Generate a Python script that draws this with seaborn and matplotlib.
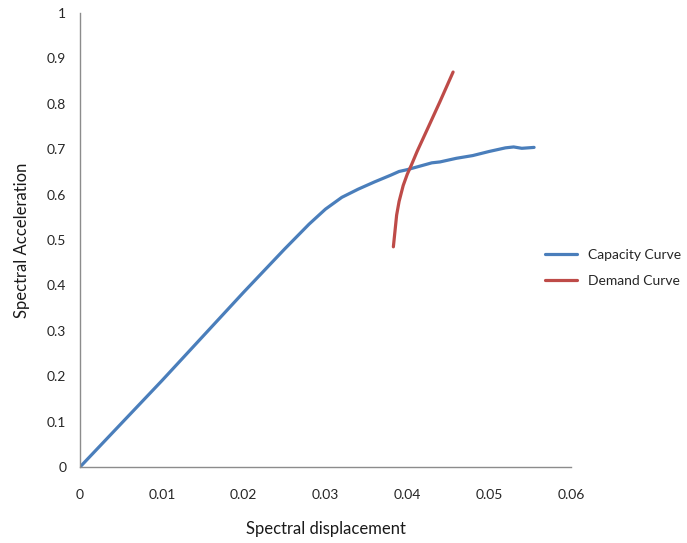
import matplotlib
matplotlib.use("Agg")
import matplotlib.pyplot as plt
import seaborn as sns
import pandas as pd

cap_x = [0, 0.01, 0.02, 0.025, 0.028, 0.030, 0.032, 0.034, 0.036, 0.038, 0.039, 0.040,
         0.042, 0.043, 0.044, 0.046, 0.048, 0.050, 0.052, 0.053, 0.054, 0.0555]
cap_y = [0, 0.19, 0.385, 0.48, 0.535, 0.568, 0.594, 0.612, 0.628, 0.643, 0.651, 0.655,
         0.665, 0.670, 0.672, 0.680, 0.686, 0.695, 0.703, 0.705, 0.702, 0.704]
dem_x = [0.0383, 0.0385, 0.0387, 0.0390, 0.0395, 0.0400, 0.0405, 0.0412, 0.0424, 0.0440, 0.0456]
dem_y = [0.485, 0.52, 0.555, 0.585, 0.62, 0.645, 0.665, 0.695, 0.742, 0.805, 0.870]

sns.set_style("white")
plt.rcParams['font.family'] = ['Lato', 'DejaVu Sans']

df = pd.concat([
    pd.DataFrame({"x": cap_x, "y": cap_y, "series": "Capacity Curve"}),
    pd.DataFrame({"x": dem_x, "y": dem_y, "series": "Demand Curve"}),
])

fig = plt.figure(figsize=(6.87, 5.43), dpi=100)
ax = fig.add_axes([0.1165, 0.14, 0.7145, 0.836])
sns.lineplot(data=df, x="x", y="y", hue="series", sort=False, estimator=None,
             palette={"Capacity Curve": "#4a7ebb", "Demand Curve": "#be4b48"},
             linewidth=2.3, ax=ax)

ax.set_xlim(0, 0.06)
ax.set_ylim(0, 1)
ax.set_xticks([0, 0.01, 0.02, 0.03, 0.04, 0.05, 0.06])
ax.set_xticklabels(["0", "0.01", "0.02", "0.03", "0.04", "0.05", "0.06"])
ax.set_yticks([i / 10 for i in range(11)])
ax.set_yticklabels(["0", "0.1", "0.2", "0.3", "0.4", "0.5", "0.6", "0.7", "0.8", "0.9", "1"])
for s in ["top", "right"]:
    ax.spines[s].set_visible(False)
for s in ["left", "bottom"]:
    ax.spines[s].set_color("#8c8c8c")
    ax.spines[s].set_linewidth(1.0)
ax.tick_params(axis="both", direction="out", length=4, color="#8c8c8c", width=1,
               labelsize=10, labelcolor="#262626", pad=6)
ax.tick_params(axis="x", pad=12)
ax.set_xlabel("Spectral displacement", fontsize=12, color="#1a1a1a", labelpad=14)
ax.set_ylabel("Spectral Acceleration", fontsize=12, color="#1a1a1a", labelpad=12)

leg = ax.legend(loc="center left", bbox_to_anchor=(545 / 687, 1 - 268 / 543),
                bbox_transform=fig.transFigure, frameon=False, borderaxespad=0,
                borderpad=0, fontsize=10, handlelength=2.3, handletextpad=0.8,
                labelspacing=1.0, title=None)
fig.savefig("out.png", dpi=100)
